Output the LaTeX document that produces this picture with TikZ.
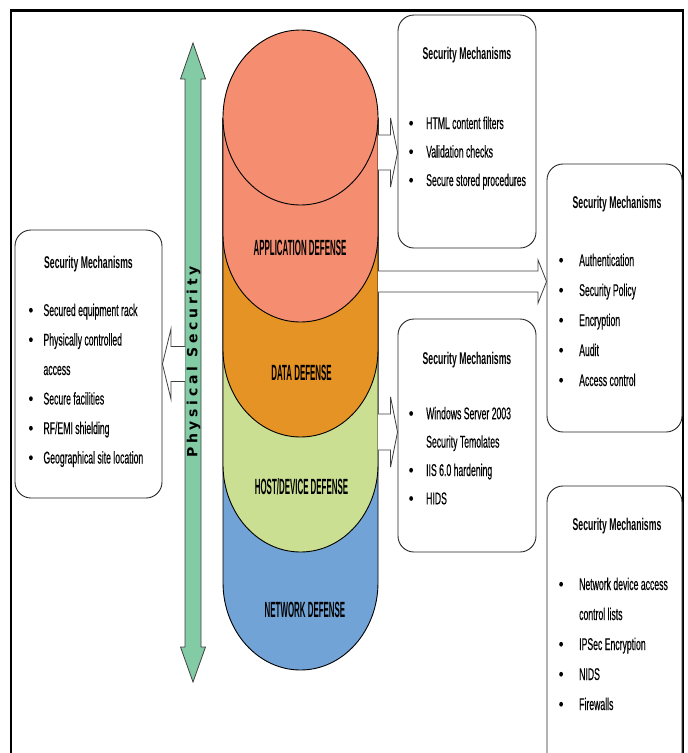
\documentclass[tikz,border=0pt]{standalone}
\usepackage{fontspec}
\setmainfont{Liberation Sans}
\newfontfamily\narrowfont[FakeStretch=0.51,FakeBold=0.3]{Liberation Sans}
\newfontfamily\titlefont[FakeStretch=0.51]{Liberation Sans}
\newfontfamily\layerfont[FakeStretch=0.36]{Liberation Sans}
\newfontfamily\physfont[LetterSpace=27]{DejaVu Sans}
\usetikzlibrary{calc}

\definecolor{appcol}{HTML}{F58D70}
\definecolor{datacol}{HTML}{E59324}
\definecolor{hostcol}{HTML}{CADF91}
\definecolor{netcol}{HTML}{71A3D6}
\definecolor{physcol}{HTML}{82CBA5}

% bullet line: #1 = width reserved for the bullet, #2 = text
\newcommand\mbul[2]{\makebox[#1][l]{\raisebox{3.4pt}{\tikz\fill[black] (0,0) ellipse [x radius=1.9pt,y radius=2.4pt];}}#2}

% one layer of the defence stack, #1 = colour, #2 = centre of its rounded bottom
\newcommand\drawlayer[2]{%
  \fill[#1] (223,117.5) -- (223,#2) arc[start angle=180,end angle=360,x radius=77.5pt,y radius=87.5pt] -- (378,117.5) -- cycle;
  \draw[layeredge] (223,117.5) -- (223,#2) arc[start angle=180,end angle=360,x radius=77.5pt,y radius=87.5pt] -- (378,117.5);}

\begin{document}
\begin{tikzpicture}[x=1pt,y=-1pt,
  mbox/.style={draw=black!85,line width=0.9pt,rounded corners=16pt,fill=white,inner sep=0pt},
  mtitle/.style={font=\titlefont\bfseries\fontsize{17}{19}\selectfont,inner sep=0pt,anchor=base},
  mline/.style={font=\narrowfont\fontsize{17}{19}\selectfont,inner sep=0pt,anchor=base west},
  layerlabel/.style={font=\layerfont\bfseries\fontsize{22}{24}\selectfont,inner sep=0pt},
  layeredge/.style={draw=black,line width=0.9pt},
  blockarrow/.style={draw=black!75,line width=0.8pt,fill=white},
  physarrow/.style={draw=black!75,line width=0.8pt,fill=physcol},
  physlabel/.style={font=\physfont\bfseries\fontsize{14}{16}\selectfont,inner sep=0pt}]

\useasboundingbox (0,0) rectangle (688,753);

% outer frame
\draw[line width=2.2pt] (11,780) -- (11,10.5) -- (683,10.5) -- (683,780);

% physical security double arrow
\coordinate (ptop) at (193,43);
\coordinate (pbot) at (193,682);
\draw[physarrow] (185,79) -- (180.5,79) -- (ptop) -- (205.5,79) -- (201,79)
  -- (201,647) -- (205.5,647) -- (pbot) -- (180.5,647) -- (185,647) -- cycle;
\node[physlabel,rotate=90] (phys) at (193.5,362) {Physical Security};

% defence-in-depth stack
\drawlayer{netcol}{582.5}
\drawlayer{hostcol}{464.5}
\drawlayer{datacol}{349.5}
\drawlayer{appcol}{234.5}
\draw[layeredge,fill=appcol] (300.5,117.5) ellipse [x radius=77.5pt,y radius=87.5pt];

\node[layerlabel] (app)  at (300,248) {APPLICATION DEFENSE};
\node[layerlabel] (data) at (301.5,373) {DATA DEFENSE};
\node[layerlabel] (host) at (301.5,487) {HOST/DEVICE DEFENSE};
\node[layerlabel] (net)  at (305,610) {NETWORK DEFENSE};

% mechanism boxes
\node[mbox,minimum width=138pt,minimum height=233pt] (box1) at (467,131.5) {};
\node[mbox,minimum width=135pt,minimum height=268pt] (box2) at (614.5,298) {};
\node[mbox,minimum width=138pt,minimum height=233pt] (box3) at (467,435.5) {};
\node[mbox,minimum width=135pt,minimum height=294pt] (box4) at (614.5,633) {};
\node[mbox,minimum width=147pt,minimum height=268pt] (boxL) at (88.5,364) {};

% application layer mechanisms
\node[mtitle] (b1t) at (467,59) {Security Mechanisms};
\node[mline] (b1a) at (409,129)   {\mbul{17pt}{HTML content filters}};
\node[mline] (b1b) at (409,157.5) {\mbul{17pt}{Validation checks}};
\node[mline] (b1c) at (409,186)   {\mbul{17pt}{Secure stored procedures}};

% data layer mechanisms
\node[mtitle] (b2t) at (617,208) {Security Mechanisms};
\node[mline] (b2a) at (559,266) {\mbul{20pt}{Authentication}};
\node[mline] (b2b) at (559,296) {\mbul{20pt}{Security Policy}};
\node[mline] (b2c) at (559,326) {\mbul{20pt}{Encryption}};
\node[mline] (b2d) at (559,356) {\mbul{20pt}{Audit}};
\node[mline] (b2e) at (559,386) {\mbul{20pt}{Access control}};

% host layer mechanisms
\node[mtitle] (b3t) at (467,364) {Security Mechanisms};
\node[mline] (b3a) at (409,419.3) {\mbul{17pt}{Windows Server 2003}};
\node[mline] (b3b) at (426,447.6) {Security Temolates};
\node[mline] (b3c) at (409,476)   {\mbul{17pt}{IIS 6.0 hardening}};
\node[mline] (b3d) at (409,504.3) {\mbul{17pt}{HIDS}};

% network layer mechanisms
\node[mtitle] (b4t) at (617,530) {Security Mechanisms};
\node[mline] (b4a) at (559,590) {\mbul{20pt}{Network device access}};
\node[mline] (b4b) at (579,620) {control lists};
\node[mline] (b4c) at (559,650) {\mbul{20pt}{IPSec Encryption}};
\node[mline] (b4d) at (559,680) {\mbul{20pt}{NIDS}};
\node[mline] (b4e) at (559,710) {\mbul{20pt}{Firewalls}};

% physical security mechanisms
\node[mtitle] (bLt) at (88.5,268) {Security Mechanisms};
\node[mline] (bLa) at (28.8,316)   {\mbul{14.5pt}{Secured equipment rack}};
\node[mline] (bLb) at (28.8,345.5) {\mbul{14.5pt}{Physically controlled}};
\node[mline] (bLc) at (43.3,375)   {access};
\node[mline] (bLd) at (28.8,404.5) {\mbul{14.5pt}{Secure facilities}};
\node[mline] (bLe) at (28.8,434)   {\mbul{14.5pt}{RF/EMI shielding}};
\node[mline] (bLf) at (28.8,463.5) {\mbul{14.5pt}{Geographical site location}};

% hollow block arrows from the layers to their mechanisms
\coordinate (a1) at (378,152.5);
\coordinate (a2) at (378,281.5);
\coordinate (a3) at (378,432);
\coordinate (a4) at (185,364);

\draw[blockarrow] let \p1=(a1), \p2=(box1.west) in
  (\x1,\y1+17.5pt) -- (\x2-7pt,\y1+17.5pt) -- (\x2-7pt,\y1+34.5pt) -- (\x2,\y1)
  -- (\x2-7pt,\y1-34.5pt) -- (\x2-7pt,\y1-17.5pt) -- (\x1,\y1-17.5pt);
\draw[blockarrow] let \p1=(a2), \p2=(box2.west) in
  (\x1,\y1+10.5pt) -- (\x2-8.5pt,\y1+10.5pt) -- (\x2-8.5pt,\y1+21.5pt) -- (\x2,\y1)
  -- (\x2-8.5pt,\y1-21.5pt) -- (\x2-8.5pt,\y1-10.5pt) -- (\x1,\y1-10.5pt);
\draw[blockarrow] let \p1=(a3), \p2=(box3.west) in
  (\x1,\y1+18pt) -- (\x2-7pt,\y1+18pt) -- (\x2-7pt,\y1+35pt) -- (\x2,\y1)
  -- (\x2-7pt,\y1-35pt) -- (\x2-7pt,\y1-18pt) -- (\x1,\y1-18pt);
\draw[blockarrow] let \p1=(a4), \p2=(boxL.east) in
  (\x1,\y1+17.5pt) -- (\x2+8.5pt,\y1+17.5pt) -- (\x2+8.5pt,\y1+35pt) -- (\x2,\y1)
  -- (\x2+8.5pt,\y1-35pt) -- (\x2+8.5pt,\y1-17.5pt) -- (\x1,\y1-17.5pt);

\end{tikzpicture}
\end{document}
